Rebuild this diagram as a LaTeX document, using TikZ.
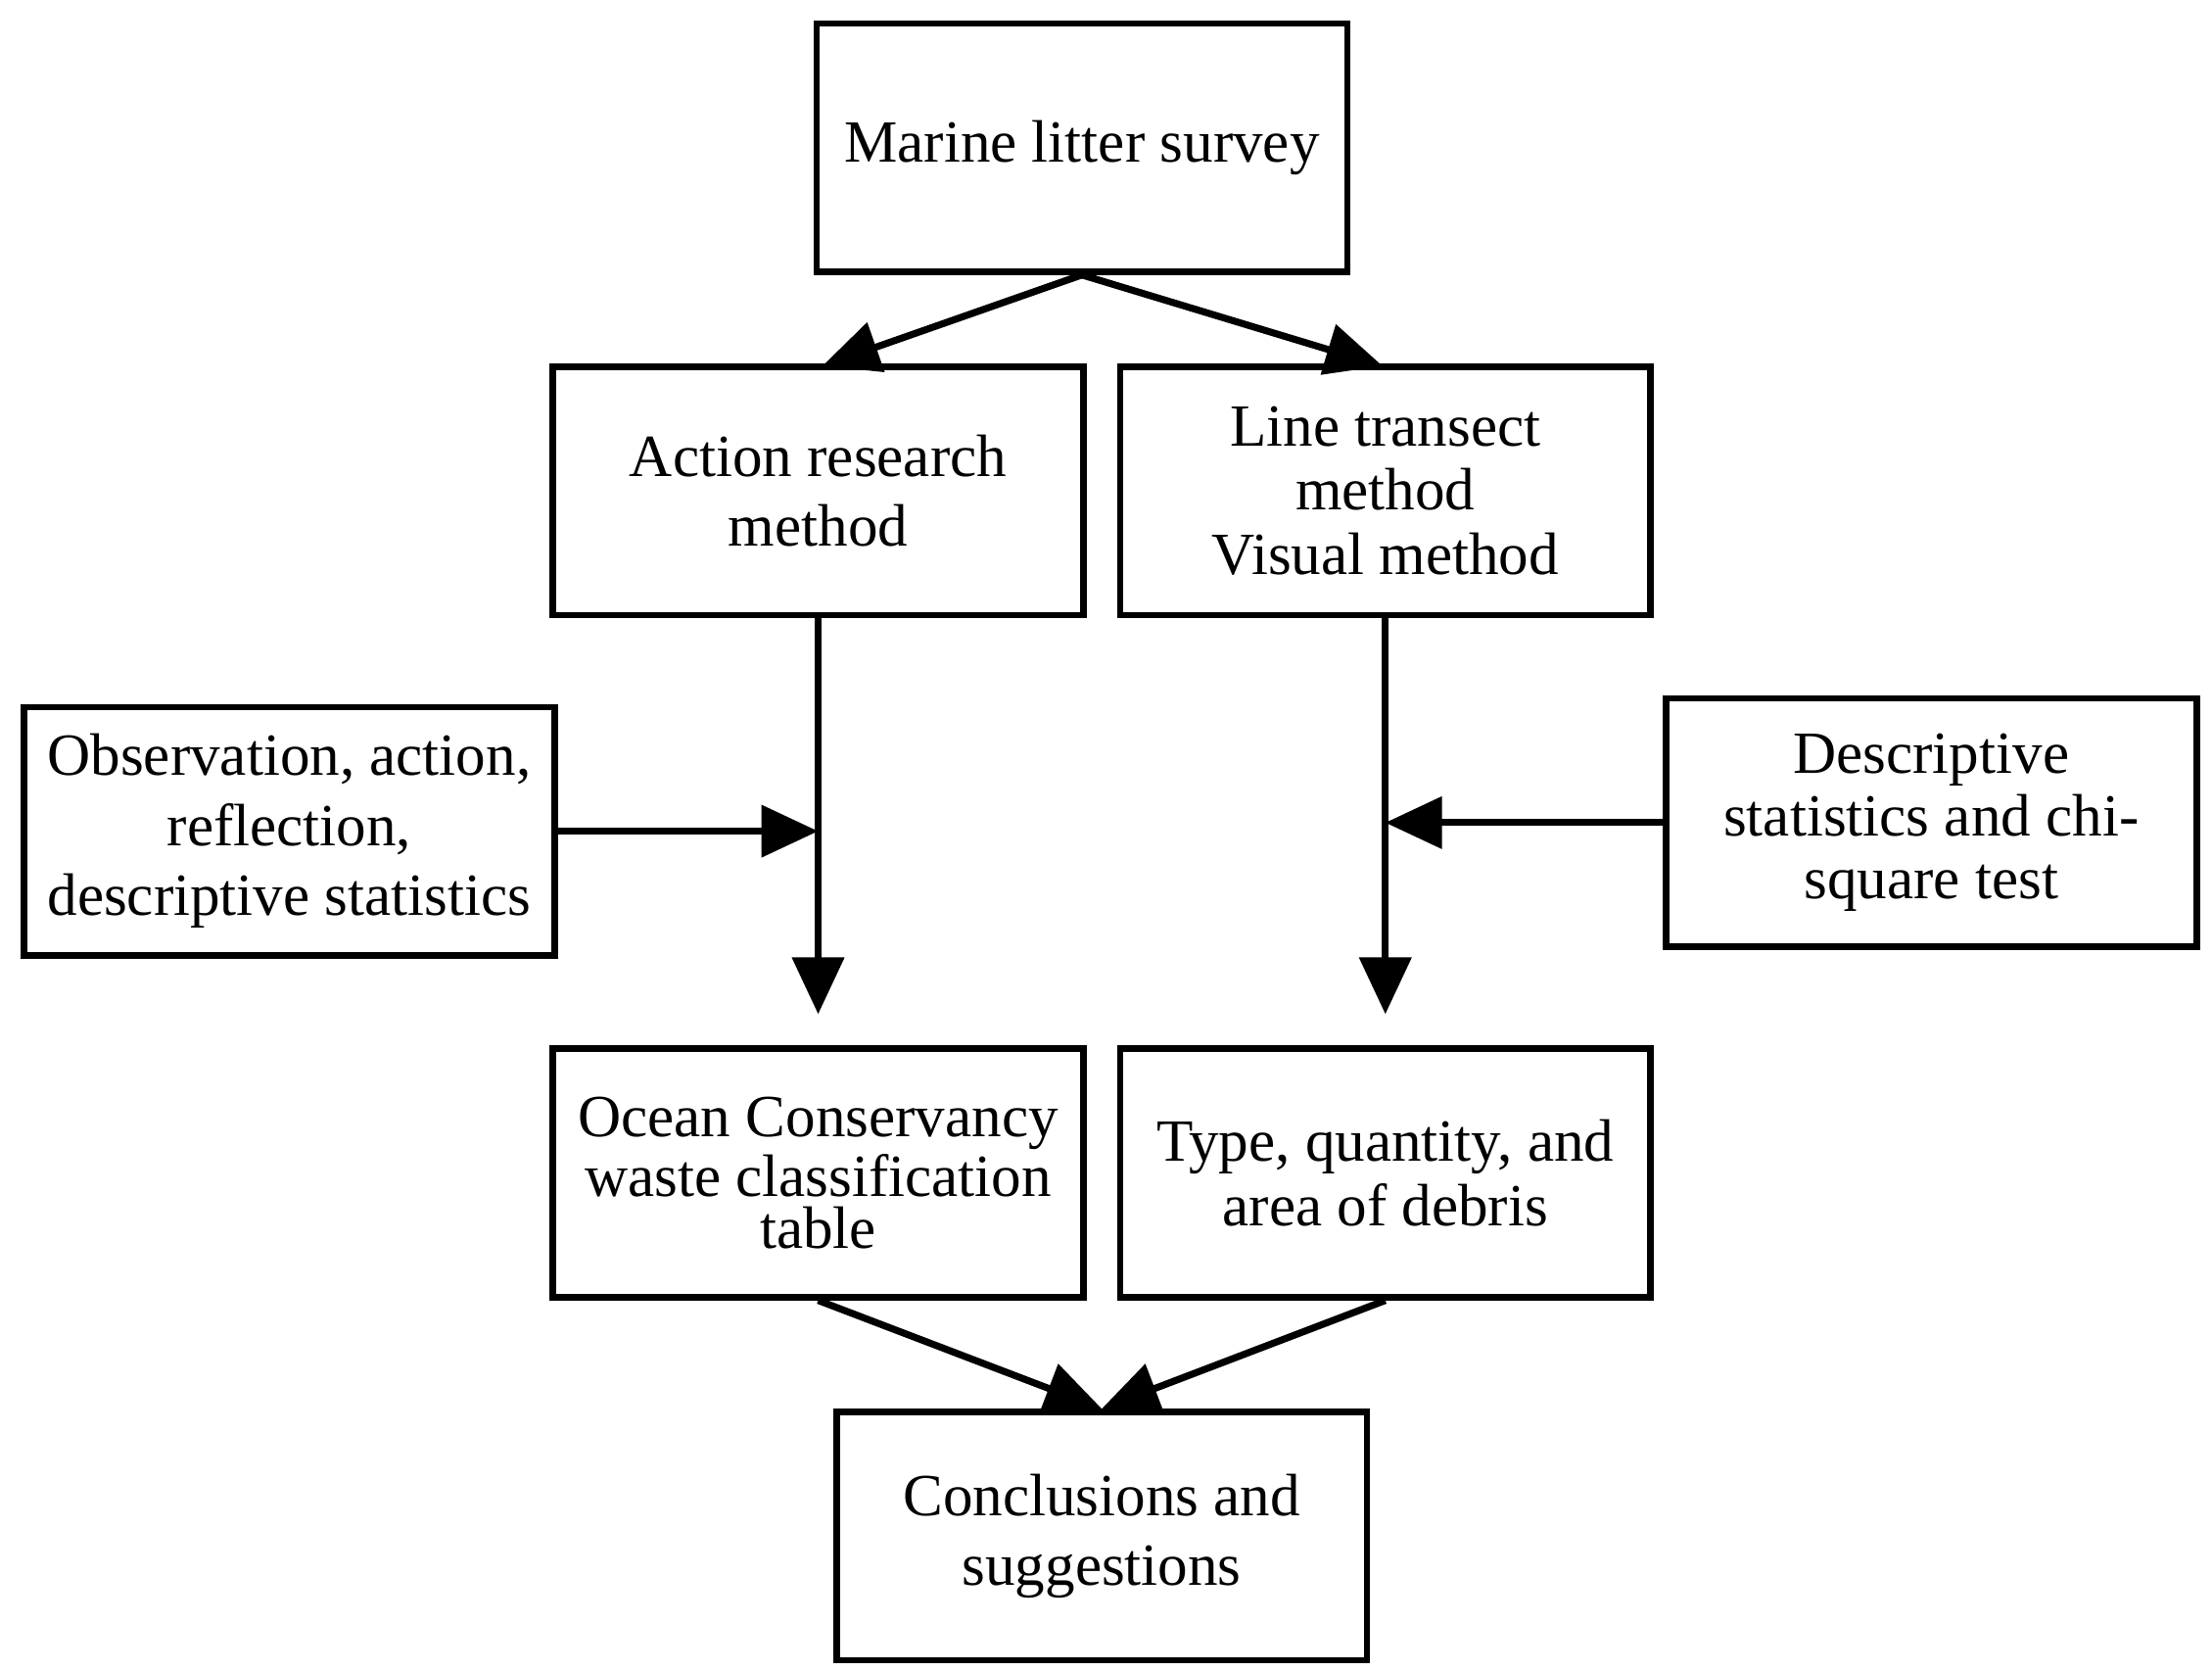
\documentclass[tikz,border=0pt]{standalone}
\usepackage{fontspec}
\setmainfont{Liberation Serif}
\usetikzlibrary{arrows.meta}
\begin{document}
\begin{tikzpicture}[x=0.01cm, y=-0.01cm,
    box/.style={draw, line width=1.3pt, minimum width=3.74cm, minimum height=1.75cm,
        align=center, font=\fontsize{12}{14}\selectfont, inner sep=2pt},
    arr/.style={line width=1.4pt, -{Triangle[length=0.4cm, width=0.36cm]}}]
    \useasboundingbox (0,0) rectangle (1560,1178);
    % boxes
    \node[box] (survey) at (763,104) {Marine litter survey};
    \node[box] (action) at (577,346) {Action research\\method};
    \node[box, font=\fontsize{12}{12.8}\selectfont] (line) at (977,346) {Line transect\\method\\Visual method};
    \node[box, font=\fontsize{12}{14}\selectfont] (obs) at (204,586) {Observation, action,\\reflection,\\descriptive statistics};
    \node[box, font=\fontsize{12}{12.5}\selectfont] (desc) at (1362,580) {Descriptive\\statistics and chi-\\square test};
    \node[box, font=\fontsize{12}{10.5}\selectfont] (ocean) at (577,827) {Ocean Conservancy\\waste classification\\table};
    \node[box, font=\fontsize{12}{12.8}\selectfont] (type) at (977,827) {Type, quantity, and\\area of debris};
    \node[box] (concl) at (777,1083) {Conclusions and\\suggestions};
    % arrow ends
    \coordinate (a1) at (577,715);
    \coordinate (a2) at (977,715);
    \coordinate (m1) at (577,586);
    \coordinate (m2) at (977,580);
    % connectors
    \draw[arr] (survey.south) -- (580,258);
    \draw[arr] (survey.south) -- (975,258);
    \draw[arr] (action.south) -- (a1);
    \draw[arr] (line.south) -- (a2);
    \draw[arr] (obs.east |- m1) -- (m1);
    \draw[arr] (desc.west |- m2) -- (m2);
    \draw[arr] (ocean.south) -- (concl.north);
    \draw[arr] (type.south) -- (concl.north);
\end{tikzpicture}
\end{document}
